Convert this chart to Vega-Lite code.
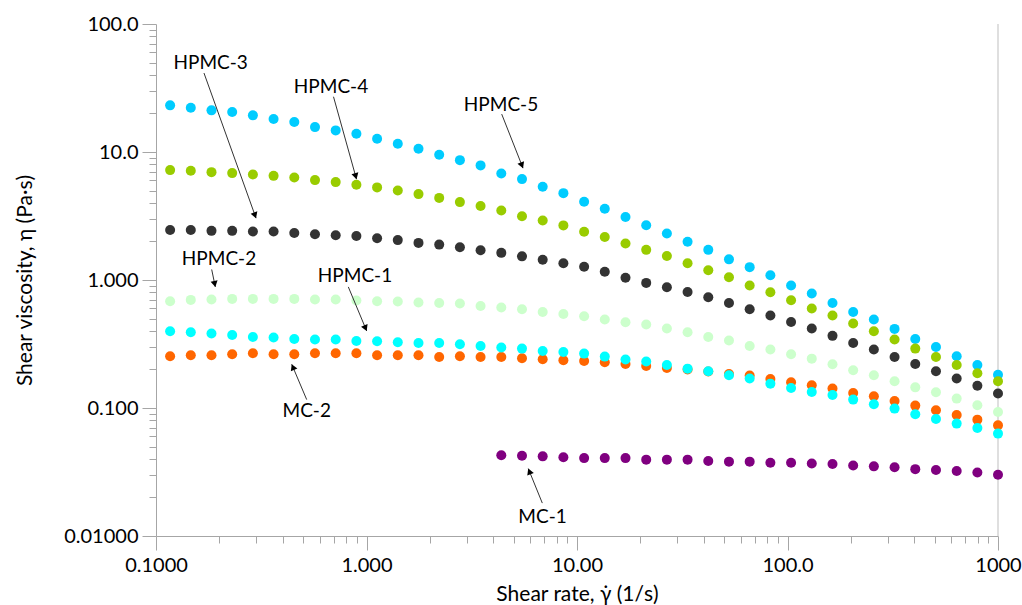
{
  "$schema": "https://vega.github.io/schema/vega-lite/v6.json",
  "width": 842,
  "height": 512,
  "autosize": {"type": "none"},
  "padding": {"left": 156, "top": 24, "right": 24, "bottom": 69},
  "background": "white",
  "config": {
    "view": {"stroke": null},
    "font": "Lato",
    "axis": {
      "grid": false,
      "domainColor": "#A6A6A6",
      "tickColor": "#A6A6A6",
      "labelColor": "black",
      "titleColor": "black",
      "labelFontSize": 20,
      "titleFontSize": 21,
      "titleFontWeight": "normal",
      "labelFlush": false,
      "labelOverlap": false
    }
  },
  "datasets": {
    "pts": [
      {"sample":"HPMC-5","rate":0.1167,"viscosity":23.14},{"sample":"HPMC-5","rate":0.1463,"viscosity":22.16},{"sample":"HPMC-5","rate":0.1835,"viscosity":21.15},{"sample":"HPMC-5","rate":0.2301,"viscosity":20.51},{"sample":"HPMC-5","rate":0.2886,"viscosity":19.33},{"sample":"HPMC-5","rate":0.3619,"viscosity":18.08},{"sample":"HPMC-5","rate":0.4539,"viscosity":17.13},{"sample":"HPMC-5","rate":0.5692,"viscosity":15.65},{"sample":"HPMC-5","rate":0.714,"viscosity":14.75},{"sample":"HPMC-5","rate":0.8954,"viscosity":13.88},{"sample":"HPMC-5","rate":1.123,"viscosity":12.68},{"sample":"HPMC-5","rate":1.408,"viscosity":11.59},{"sample":"HPMC-5","rate":1.766,"viscosity":10.59},{"sample":"HPMC-5","rate":2.215,"viscosity":9.51},{"sample":"HPMC-5","rate":2.778,"viscosity":8.64},{"sample":"HPMC-5","rate":3.483,"viscosity":7.86},{"sample":"HPMC-5","rate":4.369,"viscosity":6.8},{"sample":"HPMC-5","rate":5.479,"viscosity":6.14},{"sample":"HPMC-5","rate":6.871,"viscosity":5.35},{"sample":"HPMC-5","rate":8.617,"viscosity":4.77},{"sample":"HPMC-5","rate":10.81,"viscosity":4.08},{"sample":"HPMC-5","rate":13.55,"viscosity":3.6},{"sample":"HPMC-5","rate":17,"viscosity":3.11},{"sample":"HPMC-5","rate":21.32,"viscosity":2.68},{"sample":"HPMC-5","rate":26.73,"viscosity":2.31},{"sample":"HPMC-5","rate":33.52,"viscosity":1.99},{"sample":"HPMC-5","rate":42.04,"viscosity":1.72},{"sample":"HPMC-5","rate":52.72,"viscosity":1.45},{"sample":"HPMC-5","rate":66.12,"viscosity":1.26},{"sample":"HPMC-5","rate":82.93,"viscosity":1.09},{"sample":"HPMC-5","rate":104,"viscosity":0.906},{"sample":"HPMC-5","rate":130.4,"viscosity":0.784},{"sample":"HPMC-5","rate":163.6,"viscosity":0.662},{"sample":"HPMC-5","rate":205.1,"viscosity":0.563},{"sample":"HPMC-5","rate":257.2,"viscosity":0.491},{"sample":"HPMC-5","rate":322.6,"viscosity":0.415},{"sample":"HPMC-5","rate":404.6,"viscosity":0.346},{"sample":"HPMC-5","rate":507.4,"viscosity":0.3},{"sample":"HPMC-5","rate":636.4,"viscosity":0.254},{"sample":"HPMC-5","rate":798,"viscosity":0.217},{"sample":"HPMC-5","rate":1000,"viscosity":0.182},
      {"sample":"HPMC-4","rate":0.1167,"viscosity":7.22},{"sample":"HPMC-4","rate":0.1463,"viscosity":7.13},{"sample":"HPMC-4","rate":0.1835,"viscosity":6.96},{"sample":"HPMC-4","rate":0.2301,"viscosity":6.84},{"sample":"HPMC-4","rate":0.2886,"viscosity":6.68},{"sample":"HPMC-4","rate":0.3619,"viscosity":6.51},{"sample":"HPMC-4","rate":0.4539,"viscosity":6.33},{"sample":"HPMC-4","rate":0.5692,"viscosity":6.03},{"sample":"HPMC-4","rate":0.714,"viscosity":5.82},{"sample":"HPMC-4","rate":0.8954,"viscosity":5.54},{"sample":"HPMC-4","rate":1.123,"viscosity":5.29},{"sample":"HPMC-4","rate":1.408,"viscosity":5.01},{"sample":"HPMC-4","rate":1.766,"viscosity":4.69},{"sample":"HPMC-4","rate":2.215,"viscosity":4.38},{"sample":"HPMC-4","rate":2.778,"viscosity":4.06},{"sample":"HPMC-4","rate":3.483,"viscosity":3.78},{"sample":"HPMC-4","rate":4.369,"viscosity":3.49},{"sample":"HPMC-4","rate":5.479,"viscosity":3.15},{"sample":"HPMC-4","rate":6.871,"viscosity":2.92},{"sample":"HPMC-4","rate":8.617,"viscosity":2.67},{"sample":"HPMC-4","rate":10.81,"viscosity":2.38},{"sample":"HPMC-4","rate":13.55,"viscosity":2.17},{"sample":"HPMC-4","rate":17,"viscosity":1.93},{"sample":"HPMC-4","rate":21.32,"viscosity":1.72},{"sample":"HPMC-4","rate":26.73,"viscosity":1.54},{"sample":"HPMC-4","rate":33.52,"viscosity":1.35},{"sample":"HPMC-4","rate":42.04,"viscosity":1.19},{"sample":"HPMC-4","rate":52.72,"viscosity":1.05},{"sample":"HPMC-4","rate":66.12,"viscosity":0.906},{"sample":"HPMC-4","rate":82.93,"viscosity":0.803},{"sample":"HPMC-4","rate":104,"viscosity":0.695},{"sample":"HPMC-4","rate":130.4,"viscosity":0.599},{"sample":"HPMC-4","rate":163.6,"viscosity":0.528},{"sample":"HPMC-4","rate":205.1,"viscosity":0.457},{"sample":"HPMC-4","rate":257.2,"viscosity":0.398},{"sample":"HPMC-4","rate":322.6,"viscosity":0.343},{"sample":"HPMC-4","rate":404.6,"viscosity":0.291},{"sample":"HPMC-4","rate":507.4,"viscosity":0.25},{"sample":"HPMC-4","rate":636.4,"viscosity":0.217},{"sample":"HPMC-4","rate":798,"viscosity":0.187},{"sample":"HPMC-4","rate":1000,"viscosity":0.162},
      {"sample":"HPMC-3","rate":0.1167,"viscosity":2.46},{"sample":"HPMC-3","rate":0.1463,"viscosity":2.46},{"sample":"HPMC-3","rate":0.1835,"viscosity":2.42},{"sample":"HPMC-3","rate":0.2301,"viscosity":2.42},{"sample":"HPMC-3","rate":0.2886,"viscosity":2.39},{"sample":"HPMC-3","rate":0.3619,"viscosity":2.39},{"sample":"HPMC-3","rate":0.4539,"viscosity":2.33},{"sample":"HPMC-3","rate":0.5692,"viscosity":2.28},{"sample":"HPMC-3","rate":0.714,"viscosity":2.24},{"sample":"HPMC-3","rate":0.8954,"viscosity":2.21},{"sample":"HPMC-3","rate":1.123,"viscosity":2.12},{"sample":"HPMC-3","rate":1.408,"viscosity":2.05},{"sample":"HPMC-3","rate":1.766,"viscosity":1.95},{"sample":"HPMC-3","rate":2.215,"viscosity":1.89},{"sample":"HPMC-3","rate":2.778,"viscosity":1.8},{"sample":"HPMC-3","rate":3.483,"viscosity":1.71},{"sample":"HPMC-3","rate":4.369,"viscosity":1.63},{"sample":"HPMC-3","rate":5.479,"viscosity":1.53},{"sample":"HPMC-3","rate":6.871,"viscosity":1.44},{"sample":"HPMC-3","rate":8.617,"viscosity":1.35},{"sample":"HPMC-3","rate":10.81,"viscosity":1.27},{"sample":"HPMC-3","rate":13.55,"viscosity":1.16},{"sample":"HPMC-3","rate":17,"viscosity":1.04},{"sample":"HPMC-3","rate":21.32,"viscosity":0.949},{"sample":"HPMC-3","rate":26.73,"viscosity":0.878},{"sample":"HPMC-3","rate":33.52,"viscosity":0.807},{"sample":"HPMC-3","rate":42.04,"viscosity":0.734},{"sample":"HPMC-3","rate":52.72,"viscosity":0.662},{"sample":"HPMC-3","rate":66.12,"viscosity":0.591},{"sample":"HPMC-3","rate":82.93,"viscosity":0.528},{"sample":"HPMC-3","rate":104,"viscosity":0.47},{"sample":"HPMC-3","rate":130.4,"viscosity":0.418},{"sample":"HPMC-3","rate":163.6,"viscosity":0.366},{"sample":"HPMC-3","rate":205.1,"viscosity":0.322},{"sample":"HPMC-3","rate":257.2,"viscosity":0.286},{"sample":"HPMC-3","rate":322.6,"viscosity":0.25},{"sample":"HPMC-3","rate":404.6,"viscosity":0.221},{"sample":"HPMC-3","rate":507.4,"viscosity":0.194},{"sample":"HPMC-3","rate":636.4,"viscosity":0.17},{"sample":"HPMC-3","rate":798,"viscosity":0.149},{"sample":"HPMC-3","rate":1000,"viscosity":0.13},
      {"sample":"HPMC-2","rate":0.1167,"viscosity":0.683},{"sample":"HPMC-2","rate":0.1463,"viscosity":0.699},{"sample":"HPMC-2","rate":0.1835,"viscosity":0.704},{"sample":"HPMC-2","rate":0.2301,"viscosity":0.712},{"sample":"HPMC-2","rate":0.2886,"viscosity":0.712},{"sample":"HPMC-2","rate":0.3619,"viscosity":0.712},{"sample":"HPMC-2","rate":0.4539,"viscosity":0.712},{"sample":"HPMC-2","rate":0.5692,"viscosity":0.704},{"sample":"HPMC-2","rate":0.714,"viscosity":0.704},{"sample":"HPMC-2","rate":0.8954,"viscosity":0.691},{"sample":"HPMC-2","rate":1.123,"viscosity":0.683},{"sample":"HPMC-2","rate":1.408,"viscosity":0.679},{"sample":"HPMC-2","rate":1.766,"viscosity":0.667},{"sample":"HPMC-2","rate":2.215,"viscosity":0.662},{"sample":"HPMC-2","rate":2.778,"viscosity":0.655},{"sample":"HPMC-2","rate":3.483,"viscosity":0.627},{"sample":"HPMC-2","rate":4.369,"viscosity":0.61},{"sample":"HPMC-2","rate":5.479,"viscosity":0.591},{"sample":"HPMC-2","rate":6.871,"viscosity":0.563},{"sample":"HPMC-2","rate":8.617,"viscosity":0.543},{"sample":"HPMC-2","rate":10.81,"viscosity":0.521},{"sample":"HPMC-2","rate":13.55,"viscosity":0.491},{"sample":"HPMC-2","rate":17,"viscosity":0.468},{"sample":"HPMC-2","rate":21.32,"viscosity":0.449},{"sample":"HPMC-2","rate":26.73,"viscosity":0.418},{"sample":"HPMC-2","rate":33.52,"viscosity":0.391},{"sample":"HPMC-2","rate":42.04,"viscosity":0.359},{"sample":"HPMC-2","rate":52.72,"viscosity":0.337},{"sample":"HPMC-2","rate":66.12,"viscosity":0.305},{"sample":"HPMC-2","rate":82.93,"viscosity":0.286},{"sample":"HPMC-2","rate":104,"viscosity":0.263},{"sample":"HPMC-2","rate":130.4,"viscosity":0.243},{"sample":"HPMC-2","rate":163.6,"viscosity":0.22},{"sample":"HPMC-2","rate":205.1,"viscosity":0.197},{"sample":"HPMC-2","rate":257.2,"viscosity":0.18},{"sample":"HPMC-2","rate":322.6,"viscosity":0.162},{"sample":"HPMC-2","rate":404.6,"viscosity":0.145},{"sample":"HPMC-2","rate":507.4,"viscosity":0.1327},{"sample":"HPMC-2","rate":636.4,"viscosity":0.1184},{"sample":"HPMC-2","rate":798,"viscosity":0.105},{"sample":"HPMC-2","rate":1000,"viscosity":0.093},
      {"sample":"MC-1","rate":4.369,"viscosity":0.0427},{"sample":"MC-1","rate":5.479,"viscosity":0.0424},{"sample":"MC-1","rate":6.871,"viscosity":0.0419},{"sample":"MC-1","rate":8.617,"viscosity":0.0412},{"sample":"MC-1","rate":10.81,"viscosity":0.0406},{"sample":"MC-1","rate":13.55,"viscosity":0.0406},{"sample":"MC-1","rate":17,"viscosity":0.0406},{"sample":"MC-1","rate":21.32,"viscosity":0.0395},{"sample":"MC-1","rate":26.73,"viscosity":0.0395},{"sample":"MC-1","rate":33.52,"viscosity":0.0395},{"sample":"MC-1","rate":42.04,"viscosity":0.0385},{"sample":"MC-1","rate":52.72,"viscosity":0.0381},{"sample":"MC-1","rate":66.12,"viscosity":0.0381},{"sample":"MC-1","rate":82.93,"viscosity":0.0374},{"sample":"MC-1","rate":104,"viscosity":0.0374},{"sample":"MC-1","rate":130.4,"viscosity":0.0369},{"sample":"MC-1","rate":163.6,"viscosity":0.0365},{"sample":"MC-1","rate":205.1,"viscosity":0.0356},{"sample":"MC-1","rate":257.2,"viscosity":0.035},{"sample":"MC-1","rate":322.6,"viscosity":0.0344},{"sample":"MC-1","rate":404.6,"viscosity":0.0333},{"sample":"MC-1","rate":507.4,"viscosity":0.0328},{"sample":"MC-1","rate":636.4,"viscosity":0.0322},{"sample":"MC-1","rate":798,"viscosity":0.0313},{"sample":"MC-1","rate":1000,"viscosity":0.0301},
      {"sample":"MC-2","rate":0.1167,"viscosity":0.254},{"sample":"MC-2","rate":0.1463,"viscosity":0.258},{"sample":"MC-2","rate":0.1835,"viscosity":0.258},{"sample":"MC-2","rate":0.2301,"viscosity":0.263},{"sample":"MC-2","rate":0.2886,"viscosity":0.268},{"sample":"MC-2","rate":0.3619,"viscosity":0.263},{"sample":"MC-2","rate":0.4539,"viscosity":0.263},{"sample":"MC-2","rate":0.5692,"viscosity":0.268},{"sample":"MC-2","rate":0.714,"viscosity":0.268},{"sample":"MC-2","rate":0.8954,"viscosity":0.268},{"sample":"MC-2","rate":1.123,"viscosity":0.258},{"sample":"MC-2","rate":1.408,"viscosity":0.258},{"sample":"MC-2","rate":1.766,"viscosity":0.258},{"sample":"MC-2","rate":2.215,"viscosity":0.25},{"sample":"MC-2","rate":2.778,"viscosity":0.254},{"sample":"MC-2","rate":3.483,"viscosity":0.25},{"sample":"MC-2","rate":4.369,"viscosity":0.25},{"sample":"MC-2","rate":5.479,"viscosity":0.245},{"sample":"MC-2","rate":6.871,"viscosity":0.24},{"sample":"MC-2","rate":8.617,"viscosity":0.236},{"sample":"MC-2","rate":10.81,"viscosity":0.233},{"sample":"MC-2","rate":13.55,"viscosity":0.228},{"sample":"MC-2","rate":17,"viscosity":0.221},{"sample":"MC-2","rate":21.32,"viscosity":0.213},{"sample":"MC-2","rate":26.73,"viscosity":0.2055},{"sample":"MC-2","rate":33.52,"viscosity":0.1996},{"sample":"MC-2","rate":42.04,"viscosity":0.1926},{"sample":"MC-2","rate":52.72,"viscosity":0.1844},{"sample":"MC-2","rate":66.12,"viscosity":0.1792},{"sample":"MC-2","rate":82.93,"viscosity":0.1685},{"sample":"MC-2","rate":104,"viscosity":0.1588},{"sample":"MC-2","rate":130.4,"viscosity":0.1505},{"sample":"MC-2","rate":163.6,"viscosity":0.1418},{"sample":"MC-2","rate":205.1,"viscosity":0.1311},{"sample":"MC-2","rate":257.2,"viscosity":0.1235},{"sample":"MC-2","rate":322.6,"viscosity":0.1134},{"sample":"MC-2","rate":404.6,"viscosity":0.1044},{"sample":"MC-2","rate":507.4,"viscosity":0.096},{"sample":"MC-2","rate":636.4,"viscosity":0.0882},{"sample":"MC-2","rate":798,"viscosity":0.0811},{"sample":"MC-2","rate":1000,"viscosity":0.0732},
      {"sample":"HPMC-1","rate":0.1167,"viscosity":0.398},{"sample":"HPMC-1","rate":0.1463,"viscosity":0.391},{"sample":"HPMC-1","rate":0.1835,"viscosity":0.382},{"sample":"HPMC-1","rate":0.2301,"viscosity":0.372},{"sample":"HPMC-1","rate":0.2886,"viscosity":0.359},{"sample":"HPMC-1","rate":0.3619,"viscosity":0.355},{"sample":"HPMC-1","rate":0.4539,"viscosity":0.346},{"sample":"HPMC-1","rate":0.5692,"viscosity":0.343},{"sample":"HPMC-1","rate":0.714,"viscosity":0.343},{"sample":"HPMC-1","rate":0.8954,"viscosity":0.334},{"sample":"HPMC-1","rate":1.123,"viscosity":0.332},{"sample":"HPMC-1","rate":1.408,"viscosity":0.326},{"sample":"HPMC-1","rate":1.766,"viscosity":0.322},{"sample":"HPMC-1","rate":2.215,"viscosity":0.322},{"sample":"HPMC-1","rate":2.778,"viscosity":0.315},{"sample":"HPMC-1","rate":3.483,"viscosity":0.305},{"sample":"HPMC-1","rate":4.369,"viscosity":0.297},{"sample":"HPMC-1","rate":5.479,"viscosity":0.291},{"sample":"HPMC-1","rate":6.871,"viscosity":0.279},{"sample":"HPMC-1","rate":8.617,"viscosity":0.274},{"sample":"HPMC-1","rate":10.81,"viscosity":0.266},{"sample":"HPMC-1","rate":13.55,"viscosity":0.252},{"sample":"HPMC-1","rate":17,"viscosity":0.239},{"sample":"HPMC-1","rate":21.32,"viscosity":0.2306},{"sample":"HPMC-1","rate":26.73,"viscosity":0.217},{"sample":"HPMC-1","rate":33.52,"viscosity":0.203},{"sample":"HPMC-1","rate":42.04,"viscosity":0.194},{"sample":"HPMC-1","rate":52.72,"viscosity":0.18},{"sample":"HPMC-1","rate":66.12,"viscosity":0.17},{"sample":"HPMC-1","rate":82.93,"viscosity":0.155},{"sample":"HPMC-1","rate":104,"viscosity":0.1433},{"sample":"HPMC-1","rate":130.4,"viscosity":0.1334},{"sample":"HPMC-1","rate":163.6,"viscosity":0.1264},{"sample":"HPMC-1","rate":205.1,"viscosity":0.1163},{"sample":"HPMC-1","rate":257.2,"viscosity":0.1069},{"sample":"HPMC-1","rate":322.6,"viscosity":0.0989},{"sample":"HPMC-1","rate":404.6,"viscosity":0.0893},{"sample":"HPMC-1","rate":507.4,"viscosity":0.082},{"sample":"HPMC-1","rate":636.4,"viscosity":0.0755},{"sample":"HPMC-1","rate":798,"viscosity":0.0698},{"sample":"HPMC-1","rate":1000,"viscosity":0.0631}
    ],
    "labels": [
      {"label":"HPMC-3","rate":0.1819,"viscosity":50.0},
      {"label":"HPMC-4","rate":0.6783,"viscosity":32.17},
      {"label":"HPMC-5","rate":4.355,"viscosity":23.14},
      {"label":"HPMC-2","rate":0.1992,"viscosity":1.459},
      {"label":"HPMC-1","rate":0.8817,"viscosity":1.065},
      {"label":"MC-2","rate":0.5199,"viscosity":0.0942},
      {"label":"MC-1","rate":6.857,"viscosity":0.01415}
    ],
    "arrows": [
      {"label":"HPMC-3","rate":0.169,"viscosity":41.4,"rate_end":0.2987,"viscosity_end":3.042,"rate_head":0.2954,"viscosity_head":3.2,"direction":160.3},
      {"label":"HPMC-4","rate":0.697,"viscosity":27.02,"rate_end":0.8962,"viscosity_end":6.14,"rate_head":0.8887,"viscosity_head":6.47,"direction":164.4},
      {"label":"HPMC-5","rate":4.388,"viscosity":19.78,"rate_end":5.54,"viscosity_end":7.48,"rate_head":5.473,"viscosity_head":7.87,"direction":158.5},
      {"label":"HPMC-2","rate":0.1839,"viscosity":1.208,"rate_end":0.1913,"viscosity_end":0.883,"rate_head":0.1901,"viscosity_head":0.93,"direction":168.3},
      {"label":"HPMC-1","rate":0.8196,"viscosity":0.883,"rate_end":1.002,"viscosity_end":0.4,"rate_head":0.989,"viscosity_head":0.4206,"direction":157.3},
      {"label":"MC-2","rate":0.5199,"viscosity":0.1163,"rate_end":0.4413,"viscosity_end":0.2197,"rate_head":0.4471,"viscosity_head":0.2088,"direction":337},
      {"label":"MC-1","rate":6.842,"viscosity":0.01808,"rate_end":5.87,"viscosity_end":0.0336,"rate_head":5.941,"viscosity_head":0.03194,"direction":337.9}
    ],
    "frame": [{"rate": 1000}]
  },
  "layer": [
    {
      "data": {"name": "frame"},
      "mark": {"type": "rule", "color": "#BFBFBF", "strokeWidth": 1},
      "encoding": {
        "x": {"field": "rate", "type": "quantitative", "scale": {"type": "log", "domain": [0.1, 1000], "nice": false},
          "axis": {
            "title": "Shear rate, γ̇ (1/s)",
            "values": [0.1,0.2,0.3,0.4,0.5,0.6,0.7,0.8,0.9,1,2,3,4,5,6,7,8,9,10,20,30,40,50,60,70,80,90,100,200,300,400,500,600,700,800,900,1000],
            "labelExpr": "datum.value == 0.1 ? '0.1000' : datum.value == 1 ? '1.000' : datum.value == 10 ? '10.00' : datum.value == 100 ? '100.0' : datum.value == 1000 ? '1000' : ''",
            "tickSize": {"condition": {"test": "indexof([0.1,1,10,100,1000], datum.value) >= 0", "value": 14}, "value": 7},
            "labelPadding": 5,
            "titlePadding": 8
          }
        }
      }
    },
    {
      "data": {"name": "pts"},
      "mark": {"type": "point", "filled": true, "opacity": 1, "size": 100, "shape": "circle"},
      "encoding": {
        "x": {"field": "rate", "type": "quantitative", "scale": {"type": "log", "domain": [0.1, 1000], "nice": false}},
        "y": {"field": "viscosity", "type": "quantitative", "scale": {"type": "log", "domain": [0.01, 100], "nice": false},
          "axis": {
            "title": "Shear viscosity, η (Pa·s)",
            "values": [0.01,0.02,0.03,0.04,0.05,0.06,0.07,0.08,0.09,0.1,0.2,0.3,0.4,0.5,0.6,0.7,0.8,0.9,1,2,3,4,5,6,7,8,9,10,20,30,40,50,60,70,80,90,100],
            "labelExpr": "datum.value == 100 ? '100.0' : datum.value == 10 ? '10.0' : datum.value == 1 ? '1.000' : datum.value == 0.1 ? '0.100' : datum.value == 0.01 ? '0.01000' : ''",
            "tickSize": {"condition": {"test": "indexof([0.01,0.1,1,10,100], datum.value) >= 0", "value": 14}, "value": 7},
            "labelPadding": 4,
            "titlePadding": 28
          }
        },
        "color": {"field": "sample", "type": "nominal", "legend": null,
          "scale": {"domain": ["HPMC-5","HPMC-4","HPMC-3","HPMC-2","MC-1","MC-2","HPMC-1"],
                    "range": ["#00CCFF","#99CC00","#333333","#CCFFCC","#800080","#FF6600","#00FFFF"]}}
      }
    },
    {
      "data": {"name": "arrows"},
      "mark": {"type": "rule", "color": "#333333", "strokeWidth": 1},
      "encoding": {
        "x": {"field": "rate", "type": "quantitative", "scale": {"type": "log", "domain": [0.1, 1000], "nice": false}},
        "y": {"field": "viscosity", "type": "quantitative", "scale": {"type": "log", "domain": [0.01, 100], "nice": false}},
        "x2": {"field": "rate_end"},
        "y2": {"field": "viscosity_end"}
      }
    },
    {
      "data": {"name": "arrows"},
      "mark": {"type": "point", "shape": "triangle-up", "filled": true, "color": "black", "opacity": 1, "size": 50},
      "encoding": {
        "x": {"field": "rate_head", "type": "quantitative", "scale": {"type": "log", "domain": [0.1, 1000], "nice": false}},
        "y": {"field": "viscosity_head", "type": "quantitative", "scale": {"type": "log", "domain": [0.01, 100], "nice": false}},
        "angle": {"field": "direction", "type": "quantitative", "scale": null}
      }
    },
    {
      "data": {"name": "labels"},
      "mark": {"type": "text", "font": "Lato", "fontSize": 19, "color": "black", "align": "center", "baseline": "middle"},
      "encoding": {
        "x": {"field": "rate", "type": "quantitative", "scale": {"type": "log", "domain": [0.1, 1000], "nice": false}},
        "y": {"field": "viscosity", "type": "quantitative", "scale": {"type": "log", "domain": [0.01, 100], "nice": false}},
        "text": {"field": "label"}
      }
    }
  ]
}
